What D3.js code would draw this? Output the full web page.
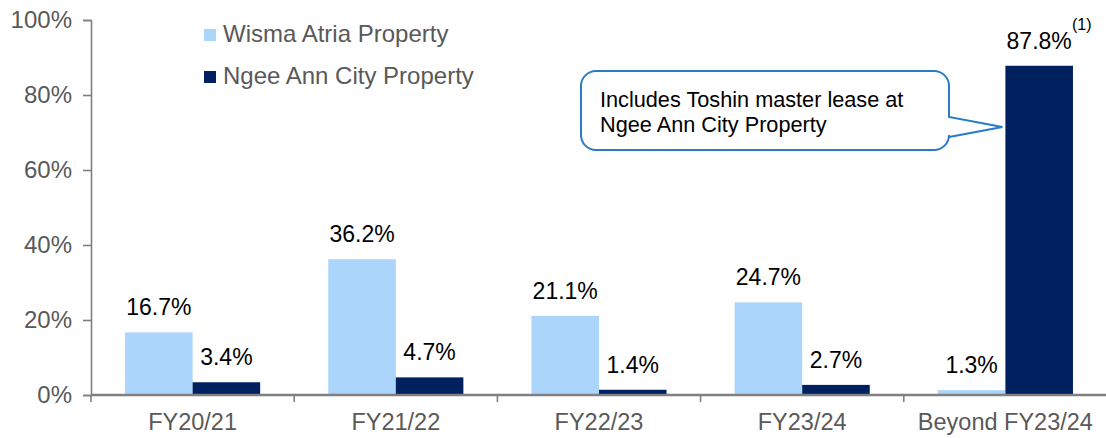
<!DOCTYPE html>
<html>
<head>
<meta charset="utf-8">
<script src="https://cdn.jsdelivr.net/npm/d3@7"></script>
<style>
  html, body { margin: 0; padding: 0; background: #fff; }
  svg { display: block; font-family: "Liberation Sans", Arial, sans-serif; }
</style>
</head>
<body>
<svg id="chart" width="1106" height="438"></svg>
<script>
// données (% du loyer brut par année d'expiration)
const categories = ['FY20/21', 'FY21/22', 'FY22/23', 'FY23/24', 'Beyond FY23/24'];
const wismaAtria = [16.7, 36.2, 21.1, 24.7, 1.3];
const ngeeAnnCity = [3.4, 4.7, 1.4, 2.7, 87.8];
const seriesNames = ['Wisma Atria Property', 'Ngee Ann City Property'];
const yTicks = [0, 20, 40, 60, 80, 100];

(function () {
  const COL = { light: '#acd5fb', dark: '#002060', axis: '#808080', grey: '#595959', call: '#2a7cc7' };

  const svg = d3.select('#chart');
  const W = 1106;
  const mL = 91, mR = 1107, mT = 20, mB = 395;

  const x = d3.scaleBand().domain(categories).range([mL, mR])
    .paddingInner(0.335).paddingOuter(0.1675);
  const xs = d3.scaleBand().domain(['w', 'n']).range([0, x.bandwidth()]);
  const y = d3.scaleLinear().domain([0, 100]).range([mB, mT]);

  const rows = categories.map((c, i) => ({ c, w: wismaAtria[i], n: ngeeAnnCity[i] }));

  // barres
  const grp = svg.append('g').selectAll('g').data(rows).enter().append('g')
    .attr('transform', d => `translate(${x(d.c)},0)`);

  [['w', COL.light], ['n', COL.dark]].forEach(([k, fill]) => {
    grp.append('rect')
      .attr('x', xs(k)).attr('width', xs.bandwidth())
      .attr('y', d => y(d[k])).attr('height', d => y(0) - y(d[k]))
      .attr('fill', fill);
    grp.append('text')
      .attr('x', xs(k) + xs.bandwidth() / 2)
      .attr('y', d => y(d[k]) - 17)
      .attr('text-anchor', 'middle')
      .attr('font-size', 23).attr('fill', '#000')
      .text(d => d[k].toFixed(1) + '%');
  });

  // renvoi (1) sur la dernière valeur
  const last = rows[rows.length - 1];
  svg.append('text')
    .attr('x', x(last.c) + xs('n') + xs.bandwidth() - 1)
    .attr('y', y(last.n) - 36)
    .attr('font-size', 16).attr('fill', '#000')
    .text('(1)');

  // axe Y
  const yAxis = svg.append('g').attr('transform', `translate(${mL},0)`)
    .call(d3.axisLeft(y).tickValues(yTicks).tickSize(8).tickPadding(11).tickFormat(d => d + '%'));
  yAxis.select('.domain').attr('stroke', COL.axis).attr('stroke-width', 1.6);
  yAxis.selectAll('.tick line').attr('stroke', COL.axis).attr('stroke-width', 1.6);
  yAxis.selectAll('.tick text').attr('font-size', 24).attr('fill', COL.grey)
    .attr('font-family', '"Liberation Sans", Arial, sans-serif');

  // axe X
  const gap = (x.step() - x.bandwidth()) / 2;
  svg.append('line').attr('x1', mL).attr('x2', W).attr('y1', mB).attr('y2', mB)
    .attr('stroke', COL.axis).attr('stroke-width', 2.5);
  svg.append('g').selectAll('line').data(categories).enter().append('line')
    .attr('x1', d => x(d) - gap).attr('x2', d => x(d) - gap)
    .attr('y1', mB).attr('y2', mB + 7)
    .attr('stroke', COL.axis).attr('stroke-width', 1.6);
  svg.append('g').selectAll('text').data(categories).enter().append('text')
    .attr('x', d => x(d) + x.bandwidth() / 2)
    .attr('y', 430)
    .attr('text-anchor', 'middle')
    .attr('font-size', 23.5).attr('fill', COL.grey)
    .text(d => d);

  // légende
  const leg = svg.append('g').selectAll('g').data(seriesNames).enter().append('g')
    .attr('transform', (d, i) => `translate(204,${29 + i * 42})`);
  leg.append('rect').attr('width', 12).attr('height', 12)
    .attr('fill', (d, i) => i ? COL.dark : COL.light);
  leg.append('text').attr('x', 19).attr('y', 12.5)
    .attr('font-size', 24).attr('fill', COL.grey).text(d => d);

  // bulle d'annotation
  const bx0 = 581, by0 = 71, bx1 = 949, by1 = 150, r = 15;
  const tipX = x(last.c) + xs('n') - 3, tipY = 127;
  svg.append('path')
    .attr('d', `M${bx0 + r},${by0} H${bx1 - r} A${r},${r} 0 0 1 ${bx1},${by0 + r} V117 L${tipX},${tipY} L${bx1},137
      V${by1 - r} A${r},${r} 0 0 1 ${bx1 - r},${by1} H${bx0 + r} A${r},${r} 0 0 1 ${bx0},${by1 - r}
      V${by0 + r} A${r},${r} 0 0 1 ${bx0 + r},${by0} Z`)
    .attr('fill', '#fff').attr('stroke', COL.call).attr('stroke-width', 2);
  svg.append('text').attr('x', 600).attr('y', 107)
    .attr('font-size', 21.7).attr('fill', '#000')
    .selectAll('tspan').data(['Includes Toshin master lease at', 'Ngee Ann City Property']).enter()
    .append('tspan').attr('x', 600).attr('dy', (d, i) => i ? 25 : 0).text(d => d);
})();
</script>
</body>
</html>
